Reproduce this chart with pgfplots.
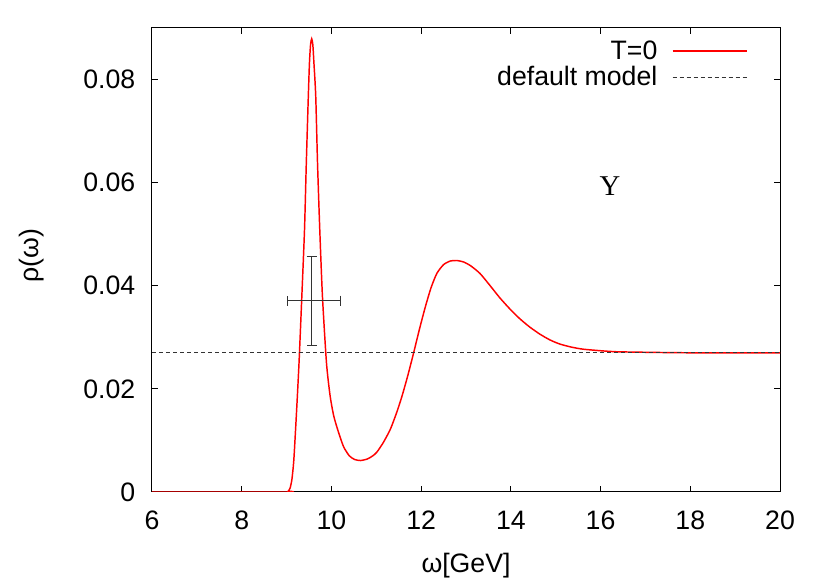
\documentclass[border=0pt]{standalone}
\usepackage{pgfplots}
\pgfplotsset{compat=1.18}
\usepackage{fontspec}
\setmainfont{Liberation Sans}
\newfontfamily\serifgreek{Liberation Serif}
\begin{document}
\begin{tikzpicture}
\begin{axis}[
  scale only axis, width=471pt, height=348pt,
  xmin=6, xmax=20, ymin=0, ymax=0.09,
  xtick={6,8,10,12,14,16,18,20},
  xticklabels={6,8,10,12,14,16,18,20},
  ytick={0,0.02,0.04,0.06,0.08},
  yticklabels={0,0.02,0.04,0.06,0.08},
  scaled y ticks=false,
  tick align=inside, major tick length=4.5pt,
  axis line style={line width=0.75pt},
  tick style={line width=0.75pt, black},
  font=\fontsize{20}{24}\selectfont,
  /pgf/number format/assume math mode=true,
  xticklabel style={yshift=-11pt},
  yticklabel style={xshift=-9pt},
  xlabel={ω[GeV]}, ylabel={ρ(ω)},
  xlabel style={at={(axis description cs:0.5,-0.158)}, anchor=center},
  ylabel style={at={(axis description cs:-0.191,0.51)}, anchor=center},
  legend style={draw=none, fill=none, at={(axis description cs:0.955,0.985)}, anchor=north east,
    font=\fontsize{20}{24}\selectfont, row sep=0pt, nodes={inner sep=2pt}},
  legend cell align=right,
  legend plot pos=right,
  legend image code/.code={\path (0pt,0pt); \draw[#1] (9pt,0pt) -- (64.5pt,0pt);},
  clip=true,
]
\addplot[red, line width=1.1pt, smooth, tension=0.4] coordinates {
(6,0) (9.0,0) (9.04,0.0002) (9.08,0.0008) (9.12,0.0025) (9.16,0.0060) (9.20,0.0120) (9.24,0.0185) (9.28,0.0255)
(9.34,0.0379) (9.40,0.0509) (9.44,0.0638) (9.485,0.0768) (9.51,0.0832) (9.535,0.0868) (9.56,0.0879)
(9.585,0.0868) (9.61,0.0832) (9.65,0.0768) (9.69,0.0638) (9.74,0.0509) (9.80,0.0379) (9.89,0.0250)
(9.97,0.0187) (10.05,0.0148) (10.15,0.0118) (10.27,0.0088) (10.40,0.0070) (10.52,0.0063) (10.65,0.0061)
(10.80,0.0064) (10.92,0.0070) (11.01,0.0077) (11.15,0.0095) (11.31,0.0121) (11.45,0.0153) (11.57,0.0185)
(11.70,0.0225) (11.83,0.0269) (11.96,0.0315) (12.09,0.0358) (12.22,0.0396) (12.35,0.0424) (12.50,0.0441)
(12.65,0.0448) (12.79,0.0449) (12.95,0.0446) (13.10,0.0439) (13.31,0.0424) (13.53,0.0401) (13.76,0.0376)
(14.00,0.0353) (14.20,0.0336) (14.42,0.0320) (14.65,0.0306) (14.87,0.0295) (15.09,0.0287) (15.35,0.0281)
(15.61,0.0277) (16.00,0.0274) (16.36,0.0272) (17.00,0.0271) (18.00,0.0270) (20.00,0.0270)
};
\addlegendentry{T=0}
\addplot[black!80, line width=0.6pt, dash pattern=on 3pt off 2.25pt] coordinates {(6,0.027) (20,0.027)};
\addlegendentry{default model}
\addplot[black!80, line width=0.75pt, mark=none, forget plot,
  error bars/.cd, x dir=both, y dir=both, x explicit, y explicit,
  error mark options={rotate=90, black!80, mark size=3.75pt, line width=0.75pt},
  error bar style={black!80, line width=0.75pt}]
  coordinates {(9.56,0.0371) += (0.65,0.0086) -= (0.535,0.0086)};
\node at (axis cs:16.21,0.0593) {\serifgreek\fontsize{21.5}{24}\selectfont Υ};
\end{axis}
\pgfresetboundingbox
\path[use as bounding box] ([xshift=-114pt,yshift=-66.75pt]current axis.south west) rectangle ([xshift=37.5pt,yshift=21pt]current axis.north east);
\end{tikzpicture}
\end{document}
